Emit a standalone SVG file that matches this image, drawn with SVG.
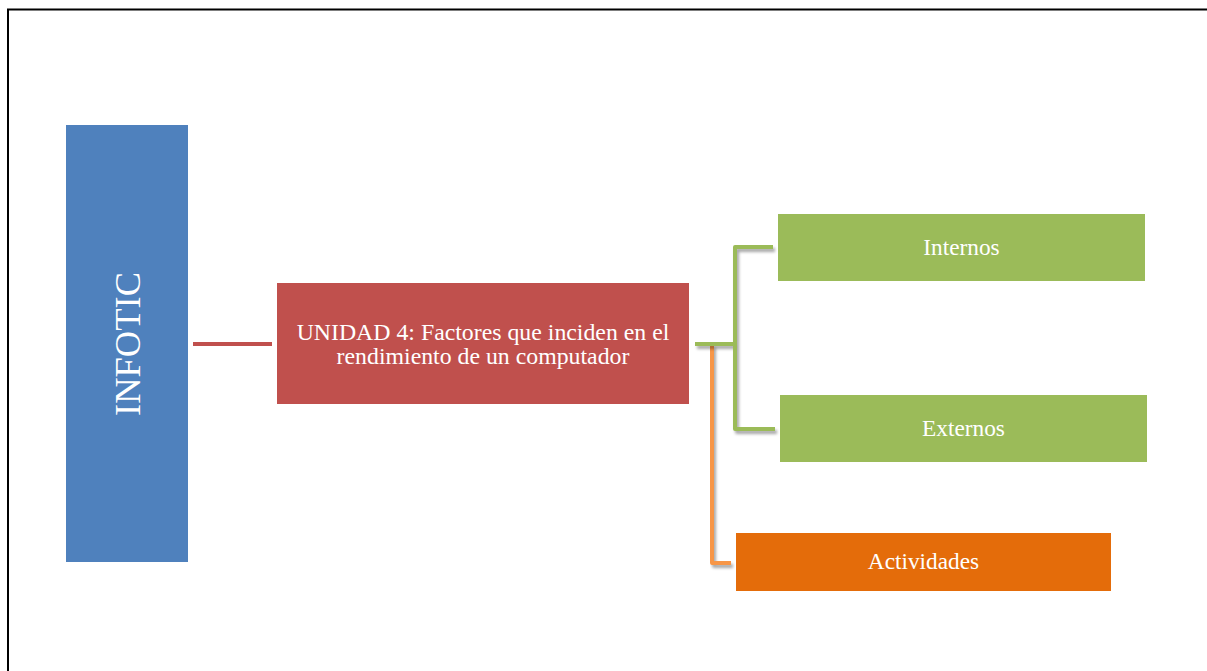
<svg xmlns="http://www.w3.org/2000/svg" width="1207" height="671" viewBox="0 0 1207 671">
  <defs>
    <filter id="soft" x="-20%" y="-20%" width="140%" height="140%">
      <feGaussianBlur in="SourceAlpha" stdDeviation="1.5"/>
      <feOffset dx="2" dy="3" result="b"/>
      <feComponentTransfer><feFuncA type="linear" slope="0.35"/></feComponentTransfer>
      <feMerge><feMergeNode/><feMergeNode in="SourceGraphic"/></feMerge>
    </filter>
  </defs>
  <style>
    .lbl { font-family: "Liberation Serif", "Times New Roman", serif; fill: #ffffff; text-anchor: middle; }
    .wire { fill: none; stroke-width: 4; stroke-linejoin: round; }
  </style>
  <rect width="1207" height="671" fill="#ffffff"/>
  <!-- page frame -->
  <path d="M8 671 V9.5 H1207" fill="none" stroke="#000000" stroke-width="2"/>

  <g id="connectors">
    <line x1="193" y1="344" x2="272" y2="344" stroke="#C0504D" stroke-width="4"/>
    <path class="wire" stroke="#F79646" filter="url(#soft)" d="M712 345 V563 H731"/>
    <path class="wire" stroke="#9BBB59" filter="url(#soft)" d="M695 344 H735 M773 247 H735 V429 H775"/>
  </g>

  <g id="infotic">
    <rect x="66" y="125" width="122" height="437" fill="#4F81BD"/>
    <text class="lbl" transform="translate(140 344) rotate(-90)" font-size="36.5">INFOTIC</text>
  </g>

  <g id="unidad">
    <rect x="277" y="283" width="412" height="121" fill="#C0504D"/>
    <text class="lbl" font-size="23.8" x="483" y="340">UNIDAD 4: Factores que inciden en el</text>
    <text class="lbl" font-size="23.8" x="483" y="364">rendimiento de un computador</text>
  </g>

  <g id="internos">
    <rect x="778" y="214" width="367" height="67" fill="#9BBB59"/>
    <text class="lbl" font-size="23.3" x="961.5" y="255">Internos</text>
  </g>

  <g id="externos">
    <rect x="780" y="395" width="367" height="67" fill="#9BBB59"/>
    <text class="lbl" font-size="23.3" x="963.5" y="436">Externos</text>
  </g>

  <g id="actividades">
    <rect x="736" y="533" width="375" height="58" fill="#E46C0A"/>
    <text class="lbl" font-size="23.3" x="923.5" y="569">Actividades</text>
  </g>
</svg>
